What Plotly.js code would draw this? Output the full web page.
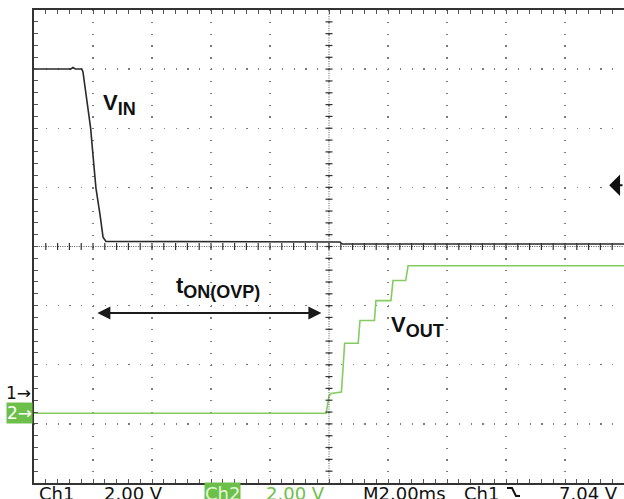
<!DOCTYPE html>
<html>
<head>
<meta charset="utf-8">
<script src="https://cdn.plot.ly/plotly-3.0.1.min.js"></script>
<style>html,body{margin:0;padding:0;background:#fff;}#chart{width:624px;height:499px;}</style>
</head>
<body>
<div id="chart"></div>
<script>
// ---- data (time in ms, volts) ----
const timeCh1 = [0, 1.25, 1.32, 1.40, 1.62, 1.66, 1.73, 1.92, 2.02, 2.10, 2.24, 2.34, 2.44, 10.37, 10.44, 20];
const vin     = [10.97, 10.97, 11.02, 10.97, 10.97, 10.87, 10.36, 8.97, 7.82, 6.94, 6.03, 5.28, 5.14, 5.12, 5.05, 5.05];
const timeCh2 = [0, 9.90, 9.95, 10.0, 10.07, 10.42, 10.46, 10.53, 10.99, 11.05, 11.54, 11.59, 12.10, 12.17, 12.60, 12.68, 20];
const vout    = [0, 0, 0.28, 0.59, 0.67, 0.72, 1.30, 2.37, 2.37, 3.14, 3.14, 3.81, 3.81, 4.49, 4.49, 4.99, 4.99];

const timePerDiv = 2.00;      // ms/div
const ch1VoltsPerDiv = 2.00;
const ch2VoltsPerDiv = 2.00;
const ch1Offset = 1.517;      // divisions of ground above bottom
const ch2Offset = 1.179;
const triggerLevel = 7.04;
const tOnStart = 2.097, tOnEnd = 9.742, tOnLevel = 2.717;

const footerTexts = ["Ch1", "2.00 V", "Ch2", "2.00 V", "M2.00ms", "Ch1", "7.04 V"];
const footerLeftPx = [38, 103, 204, 265, 362, 463, 558];
const footerColors = ["#111", "#111", "#e4f7d8", "#6cc04a", "#111", "#111", "#111"];
const footerBg = [null, null, "#6cc04a", null, null, null, null];

const green = "#84cc62";
const dark = "#2a2a2a";
const gridCol = "#7a7a7a";

const W = 624, H = 499, L = 34, T = 10, PW = 590, PH = 473;
const px2paper = p => (p - L) / PW;
const py2paper = p => (T + PH - p) / PH;

const ch1Range = [-ch1Offset * ch1VoltsPerDiv, (8 - ch1Offset) * ch1VoltsPerDiv];
const ch2Range = [-ch2Offset * ch2VoltsPerDiv, (8 - ch2Offset) * ch2VoltsPerDiv];

const traces = [
  {x: timeCh1, y: vin, type: 'scatter', mode: 'lines', line: {color: dark, width: 1.6}, yaxis: 'y', hoverinfo: 'skip'},
  {x: timeCh2, y: vout, type: 'scatter', mode: 'lines', line: {color: green, width: 1.6}, yaxis: 'y2', hoverinfo: 'skip'}
];

// center cross + tick marks
const shapes = [
  {type: 'line', xref: 'paper', yref: 'paper', x0: 0, x1: 1, y0: 0.5, y1: 0.5, line: {color: '#555', width: 1, dash: '1px,1.36px'}},
  {type: 'line', xref: 'paper', yref: 'paper', x0: 0.5, x1: 0.5, y0: 0, y1: 1, line: {color: '#555', width: 1, dash: '1px,1.365px'}}
];
for (let i = 1; i < 50; i++) {
  const xp = i / 50;
  shapes.push({type: 'line', xref: 'paper', yref: 'paper', x0: xp, x1: xp, y0: 0.5 - 3.5 / PH, y1: 0.5 + 3.5 / PH, line: {color: '#333', width: 1.2}});
}
for (let i = 1; i < 40; i++) {
  const yp = i / 40;
  shapes.push({type: 'line', xref: 'paper', yref: 'paper', x0: 0.5 - 3.5 / PW, x1: 0.5 + 3.5 / PW, y0: yp, y1: yp, line: {color: '#333', width: 1.2}});
}
// falling-edge trigger glyph in footer
const gx = [507, 512, 516, 520], gy = [488, 488, 496, 496];
shapes.push({type: 'path', xref: 'paper', yref: 'paper',
  path: 'M' + gx.map((v, i) => px2paper(v) + ',' + py2paper(gy[i])).join('L'),
  line: {color: '#111', width: 2}});

const annotations = [
  {xref: 'paper', yref: 'paper', x: px2paper(101), y: py2paper(104), xanchor: 'left', yanchor: 'middle', showarrow: false,
   text: '<b>V<sub><span style="font-size:18px">IN</span></sub></b>', font: {family: 'Liberation Sans, Arial', size: 22, color: '#111'}},
  {xref: 'paper', yref: 'paper', x: px2paper(174), y: py2paper(287), xanchor: 'left', yanchor: 'middle', showarrow: false,
   text: '<b>t<sub><span style="font-size:18px">ON(OVP)</span></sub></b>', font: {family: 'Liberation Sans, Arial', size: 22, color: '#111'}},
  {xref: 'paper', yref: 'paper', x: px2paper(389), y: py2paper(326), xanchor: 'left', yanchor: 'middle', showarrow: false,
   text: '<b>V<sub><span style="font-size:18px">OUT</span></sub></b>', font: {family: 'Liberation Sans, Arial', size: 22, color: '#111'}},
  // t_ON(OVP) double arrow
  {xref: 'x', yref: 'y', x: tOnEnd, y: tOnLevel, axref: 'x', ayref: 'y', ax: tOnStart, ay: tOnLevel, text: '',
   showarrow: true, arrowside: 'end+start', arrowhead: 2, startarrowhead: 2, arrowsize: 1.3, startarrowsize: 1.3,
   arrowwidth: 2, arrowcolor: '#1a1a1a', standoff: 0, startstandoff: 0},
  // trigger level marker
  {xref: 'x', yref: 'y', x: 19.50, y: triggerLevel, axref: 'pixel', ayref: 'pixel', ax: 30, ay: 0, text: '',
   showarrow: true, arrowhead: 1, arrowsize: 1.8, arrowwidth: 2, arrowcolor: '#111', standoff: 0},
  // channel ground markers
  {xref: 'paper', yref: 'y', x: 0, y: 0, xanchor: 'right', yanchor: 'middle', xshift: -1, showarrow: false,
   text: '1→', font: {family: 'DejaVu Sans', size: 17, color: '#111'}},
  {xref: 'paper', yref: 'y2', x: 0, y: 0, xanchor: 'right', yanchor: 'middle', xshift: -1, showarrow: false,
   text: '2→', bgcolor: '#6cc04a', borderpad: 0, font: {family: 'DejaVu Sans', size: 17, color: '#ffffff'}}
];
footerTexts.forEach((t, i) => {
  annotations.push({xref: 'paper', yref: 'paper', x: px2paper(footerLeftPx[i]), y: 0, xanchor: 'left', yanchor: 'top',
    yshift: 1, showarrow: false, text: t, bgcolor: footerBg[i] || 'rgba(0,0,0,0)', borderpad: 0,
    font: {family: 'DejaVu Sans', size: 18, color: footerColors[i]}});
});

const layout = {
  width: W, height: H,
  margin: {l: L, r: W - L - PW, t: T, b: H - T - PH, pad: 0},
  paper_bgcolor: '#fff', plot_bgcolor: '#fff',
  showlegend: false,
  xaxis: {range: [0, 10 * timePerDiv], tick0: 0, dtick: timePerDiv, showgrid: true, gridcolor: gridCol, gridwidth: 1.4,
    griddash: '1.2px,10.625px', zeroline: false, showticklabels: false, ticks: 'inside', ticklen: 4, tickcolor: '#555',
    showline: true, linecolor: '#333', linewidth: 2, mirror: 'ticks',
    minor: {tick0: 0, dtick: timePerDiv / 5, ticks: 'inside', ticklen: 4, tickcolor: '#555', showgrid: false}},
  yaxis: {range: ch1Range, tick0: ch1Range[0], dtick: ch1VoltsPerDiv, showgrid: true, gridcolor: gridCol, gridwidth: 1.4,
    griddash: '1.2px,10.6px', zeroline: false, showticklabels: false, ticks: 'inside', ticklen: 4, tickcolor: '#555',
    showline: true, linecolor: '#333', linewidth: 2,
    minor: {tick0: ch1Range[0], dtick: ch1VoltsPerDiv / 5, ticks: 'inside', ticklen: 4, tickcolor: '#555', showgrid: false}},
  yaxis2: {range: ch2Range, overlaying: 'y', visible: false},
  shapes: shapes,
  annotations: annotations
};

Plotly.newPlot('chart', traces, layout, {staticPlot: true, displayModeBar: false});
</script>
</body>
</html>
